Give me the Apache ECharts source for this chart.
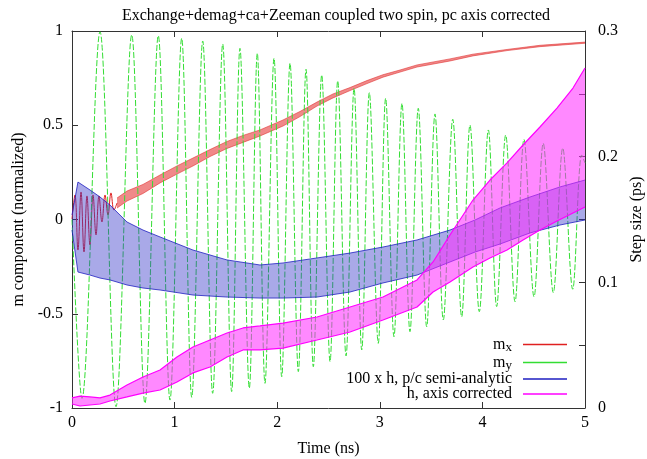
<!DOCTYPE html>
<html>
<head>
<meta charset="utf-8">
<script src="https://cdn.jsdelivr.net/npm/echarts@6/dist/echarts.min.js"></script>
<style>html,body{margin:0;padding:0;background:#fff;}#c{width:647px;height:459px;}</style>
</head>
<body>
<div id="c"></div>
<script>
// ---- data (time in ns) ----
// m_y : extrema of the precession
const greenT = [0, 0.097, 0.273, 0.429, 0.582, 0.711, 0.841, 0.955, 1.069, 1.167, 1.274, 1.371, 1.469, 1.556, 1.637, 1.728, 1.806, 1.881, 1.969, 2.044, 2.125, 2.206, 2.281, 2.352, 2.434, 2.515, 2.590, 2.671, 2.749, 2.824, 2.898, 2.985, 3.057, 3.138, 3.216, 3.294, 3.375, 3.457, 3.538, 3.619, 3.711, 3.798, 3.879, 3.970, 4.058, 4.139, 4.227, 4.318, 4.405, 4.503, 4.593, 4.691, 4.783, 4.880, 4.968, 5.0];
const greenV = [0, -0.949, 0.996, -0.993, 0.979, -0.975, 0.975, -0.958, 0.961, -0.943, 0.947, -0.922, 0.931, -0.913, 0.908, -0.895, 0.882, -0.869, 0.855, -0.834, 0.829, -0.807, 0.797, -0.781, 0.767, -0.754, 0.736, -0.724, 0.696, -0.692, 0.673, -0.657, 0.643, -0.622, 0.616, -0.595, 0.590, -0.569, 0.560, -0.533, 0.532, -0.516, 0.501, -0.489, 0.475, -0.462, 0.448, -0.436, 0.425, -0.410, 0.404, -0.388, 0.379, -0.370, 0.342, 0.30];

// m_x : initial wiggles, then a narrow oscillating band (low / high envelope)
const redStartT = [0, 0.029, 0.058, 0.088, 0.117, 0.146, 0.175, 0.205, 0.234, 0.263, 0.292, 0.322, 0.351, 0.380, 0.409, 0.439];
const redStartV = [0.003, 0.130, -0.162, 0.146, -0.172, 0.125, -0.135, 0.130, -0.082, 0.125, -0.013, 0.130, 0.024, 0.141, 0.050, 0.0875];
const redT  = [0.439, 0.536, 0.692, 0.858, 1.023, 1.179, 1.345, 1.511, 1.667, 1.832, 2.057, 2.222, 2.388, 2.544, 2.710, 2.875, 3.031, 3.197, 3.363, 3.684, 3.908, 4.240, 4.561, 5.0];
const redLo = [0.061, 0.098, 0.138, 0.194, 0.241, 0.284, 0.334, 0.377, 0.409, 0.443, 0.496, 0.546, 0.602, 0.645, 0.684, 0.721, 0.755, 0.782, 0.809, 0.841, 0.868, 0.896, 0.917, 0.935];
const redHi = [0.114, 0.151, 0.186, 0.236, 0.284, 0.326, 0.371, 0.414, 0.446, 0.475, 0.528, 0.573, 0.623, 0.666, 0.700, 0.737, 0.768, 0.793, 0.820, 0.852, 0.877, 0.902, 0.924, 0.941];

// 100 x h, p/c semi-analytic (step-size axis, ps): envelope of the fast oscillation
const blueT  = [0, 0.058, 0.175, 0.273, 0.370, 0.536, 0.692, 0.858, 1.179, 1.511, 1.832, 2.057, 2.388, 2.710, 3.031, 3.363, 3.684, 3.928, 4.172, 4.464, 4.756, 5.0];
const blueHi = [0.1536, 0.1798, 0.1735, 0.1679, 0.1615, 0.1480, 0.1416, 0.1361, 0.1257, 0.1178, 0.1138, 0.1154, 0.1194, 0.1233, 0.1281, 0.1337, 0.1416, 0.1496, 0.1592, 0.1679, 0.1759, 0.1814];
const blueLo = [0.1416, 0.1082, 0.1058, 0.1034, 0.1019, 0.0979, 0.0955, 0.0939, 0.0899, 0.0883, 0.0875, 0.0875, 0.0883, 0.0923, 0.0995, 0.1058, 0.1162, 0.1241, 0.1305, 0.1393, 0.1456, 0.1496];

// h, axis corrected (step-size axis, ps): envelope
const magT  = [0, 0.078, 0.175, 0.273, 0.370, 0.536, 0.692, 0.858, 1.023, 1.179, 1.345, 1.511, 1.667, 1.832, 2.057, 2.388, 2.710, 3.031, 3.363, 3.519, 3.684, 3.908, 4.074, 4.240, 4.396, 4.561, 4.727, 4.883, 5.0];
const magHi = [0.0080, 0.0095, 0.0088, 0.0080, 0.0103, 0.0183, 0.0247, 0.0302, 0.0406, 0.0485, 0.0541, 0.0597, 0.0637, 0.0653, 0.0676, 0.0724, 0.0804, 0.0883, 0.1019, 0.1162, 0.1377, 0.1655, 0.1814, 0.1950, 0.2093, 0.2236, 0.2387, 0.2546, 0.2706];
const magLo = [0.0032, 0.0016, 0.0024, 0.0032, 0.0056, 0.0088, 0.0119, 0.0143, 0.0207, 0.0279, 0.0326, 0.0406, 0.0462, 0.0462, 0.0477, 0.0541, 0.0605, 0.0700, 0.0804, 0.0923, 0.1003, 0.1122, 0.1194, 0.1257, 0.1337, 0.1416, 0.1488, 0.1552, 0.1599];

const xTicks = {min: 0, max: 5, interval: 1};
const yLeftTicks = {min: -1, max: 1, interval: 0.5};
const yRightTicks = {min: 0, max: 0.3, interval: 0.05};

const names = ['m_x', 'm_y', '100 x h, p/c semi-analytic', 'h, axis corrected'];
// ---------------------------------------------------

const FONT = 'Liberation Serif';
const pairs = (t, v) => t.map((x, i) => [x, v[i]]);

// a band: filled polygon between low and high envelopes (custom series using the axes),
// plus the two envelope edges as line series
function band(name, t, lo, hi, yIdx, color, fill, width, z) {
  const fillSeries = {
    type: 'custom', name: name + ' fill', yAxisIndex: yIdx, silent: true, z: z,
    data: [[t[0], lo[0]]],
    clip: true,
    renderItem: function (params, api) {
      const pts = [];
      for (let i = 0; i < t.length; i++) pts.push(api.coord([t[i], hi[i]]));
      for (let i = t.length - 1; i >= 0; i--) pts.push(api.coord([t[i], lo[i]]));
      return {type: 'polygon', shape: {points: pts}, style: {fill: fill, stroke: null}};
    }
  };
  const edge = (nm, v) => ({
    name: nm, type: 'line', yAxisIndex: yIdx, data: pairs(t, v), symbol: 'none', showSymbol: false,
    lineStyle: {color: color, width: width}, itemStyle: {color: color}, z: z
  });
  return [fillSeries, edge(name, hi), edge(name + ' low', lo)];
}

const axisLineStyle = {color: '#333', width: 1};
const labelStyle = {fontFamily: FONT, fontSize: 16, color: '#000'};

const option = {
  animation: false,
  backgroundColor: '#fff',
  title: {
    text: 'Exchange+demag+ca+Zeeman coupled two spin, pc axis corrected',
    left: 331, top: 3, textAlign: 'center',
    textStyle: {fontFamily: FONT, fontSize: 16, fontWeight: 'normal', color: '#000'}
  },
  grid: {left: 72, right: 62, top: 31, bottom: 51, containLabel: false, outerBoundsMode: 'none'},
  legend: {
    data: names,
    orient: 'vertical',
    align: 'right',
    right: 80, top: 335, padding: 0,
    icon: 'rect',
    itemWidth: 44, itemHeight: 1.5, itemGap: -1,
    textStyle: {
      fontFamily: FONT, fontSize: 16, color: '#000', lineHeight: 16, padding: [0, 6, 0, 0],
      rich: {
        m: {fontFamily: FONT, fontSize: 16, color: '#000', lineHeight: 15},
        s: {fontFamily: FONT, fontSize: 13, color: '#000', lineHeight: 8, padding: [6, 0, 0, 0]}
      }
    },
    formatter: function (n) {
      if (n === 'm_x') return '{m|m}{s|x}';
      if (n === 'm_y') return '{m|m}{s|y}';
      return n;
    }
  },
  xAxis: [
    {
      type: 'value', position: 'bottom', min: xTicks.min, max: xTicks.max, interval: xTicks.interval,
      name: 'Time (ns)', nameLocation: 'middle', nameGap: 33,
      nameTextStyle: labelStyle,
      axisLine: {show: true, onZero: false, lineStyle: axisLineStyle},
      axisTick: {show: true, inside: true, length: 6, lineStyle: axisLineStyle},
      axisLabel: Object.assign({margin: 7}, labelStyle),
      splitLine: {show: false}
    },
    {
      type: 'value', position: 'top', min: xTicks.min, max: xTicks.max, interval: xTicks.interval,
      axisLine: {show: true, onZero: false, lineStyle: axisLineStyle},
      axisTick: {show: true, inside: true, length: 6, lineStyle: axisLineStyle},
      axisLabel: {show: false},
      splitLine: {show: false}
    }
  ],
  yAxis: [
    {
      type: 'value', position: 'left', min: yLeftTicks.min, max: yLeftTicks.max, interval: yLeftTicks.interval,
      name: 'm component (normalized)', nameLocation: 'middle', nameGap: 42, nameRotate: 90,
      nameTextStyle: labelStyle,
      axisLine: {show: true, onZero: false, lineStyle: axisLineStyle},
      axisTick: {show: true, inside: true, length: 6, lineStyle: axisLineStyle},
      axisLabel: Object.assign({margin: 9}, labelStyle),
      splitLine: {show: false}
    },
    {
      type: 'value', position: 'right', min: yRightTicks.min, max: yRightTicks.max, interval: yRightTicks.interval,
      name: 'Step size (ps)', nameLocation: 'middle', nameGap: 40, nameRotate: 90,
      nameTextStyle: labelStyle,
      axisLine: {show: true, onZero: false, lineStyle: axisLineStyle},
      axisTick: {show: true, inside: true, length: 6, lineStyle: axisLineStyle},
      axisLabel: Object.assign({
        margin: 13,
        formatter: function (v) {
          const k = Math.round(v * 100);
          return (k % 10 === 0) ? String(+(v.toFixed(2))) : '';
        }
      }, labelStyle),
      splitLine: {show: false}
    }
  ],
  series: [
    {
      name: 'm_x', type: 'line', yAxisIndex: 0, data: pairs(redStartT, redStartV),
      symbol: 'none', smooth: 0.4, lineStyle: {color: '#e02020', width: 1}, itemStyle: {color: '#e02020'}, z: 2
    },
    ...band('m_x', redT, redLo, redHi, 0, '#e03030', 'rgba(228,40,40,0.55)', 0.6, 2),
    {
      name: 'm_y', type: 'line', yAxisIndex: 0, data: pairs(greenT, greenV),
      symbol: 'none', smooth: 0.35,
      lineStyle: {color: '#33dd33', width: 1, type: [6, 2]}, itemStyle: {color: '#33dd33'}, z: 3
    },
    ...band('100 x h, p/c semi-analytic', blueT, blueLo, blueHi, 1, '#1e1ec0', 'rgba(50,50,200,0.42)', 0.8, 4),
    ...band('h, axis corrected', magT, magLo, magHi, 1, '#ff00ff', 'rgba(255,40,255,0.55)', 1.2, 5)
  ]
};

const chart = echarts.init(document.getElementById('c'), null, {renderer: 'canvas'});
chart.setOption(option);
</script>
</body>
</html>
